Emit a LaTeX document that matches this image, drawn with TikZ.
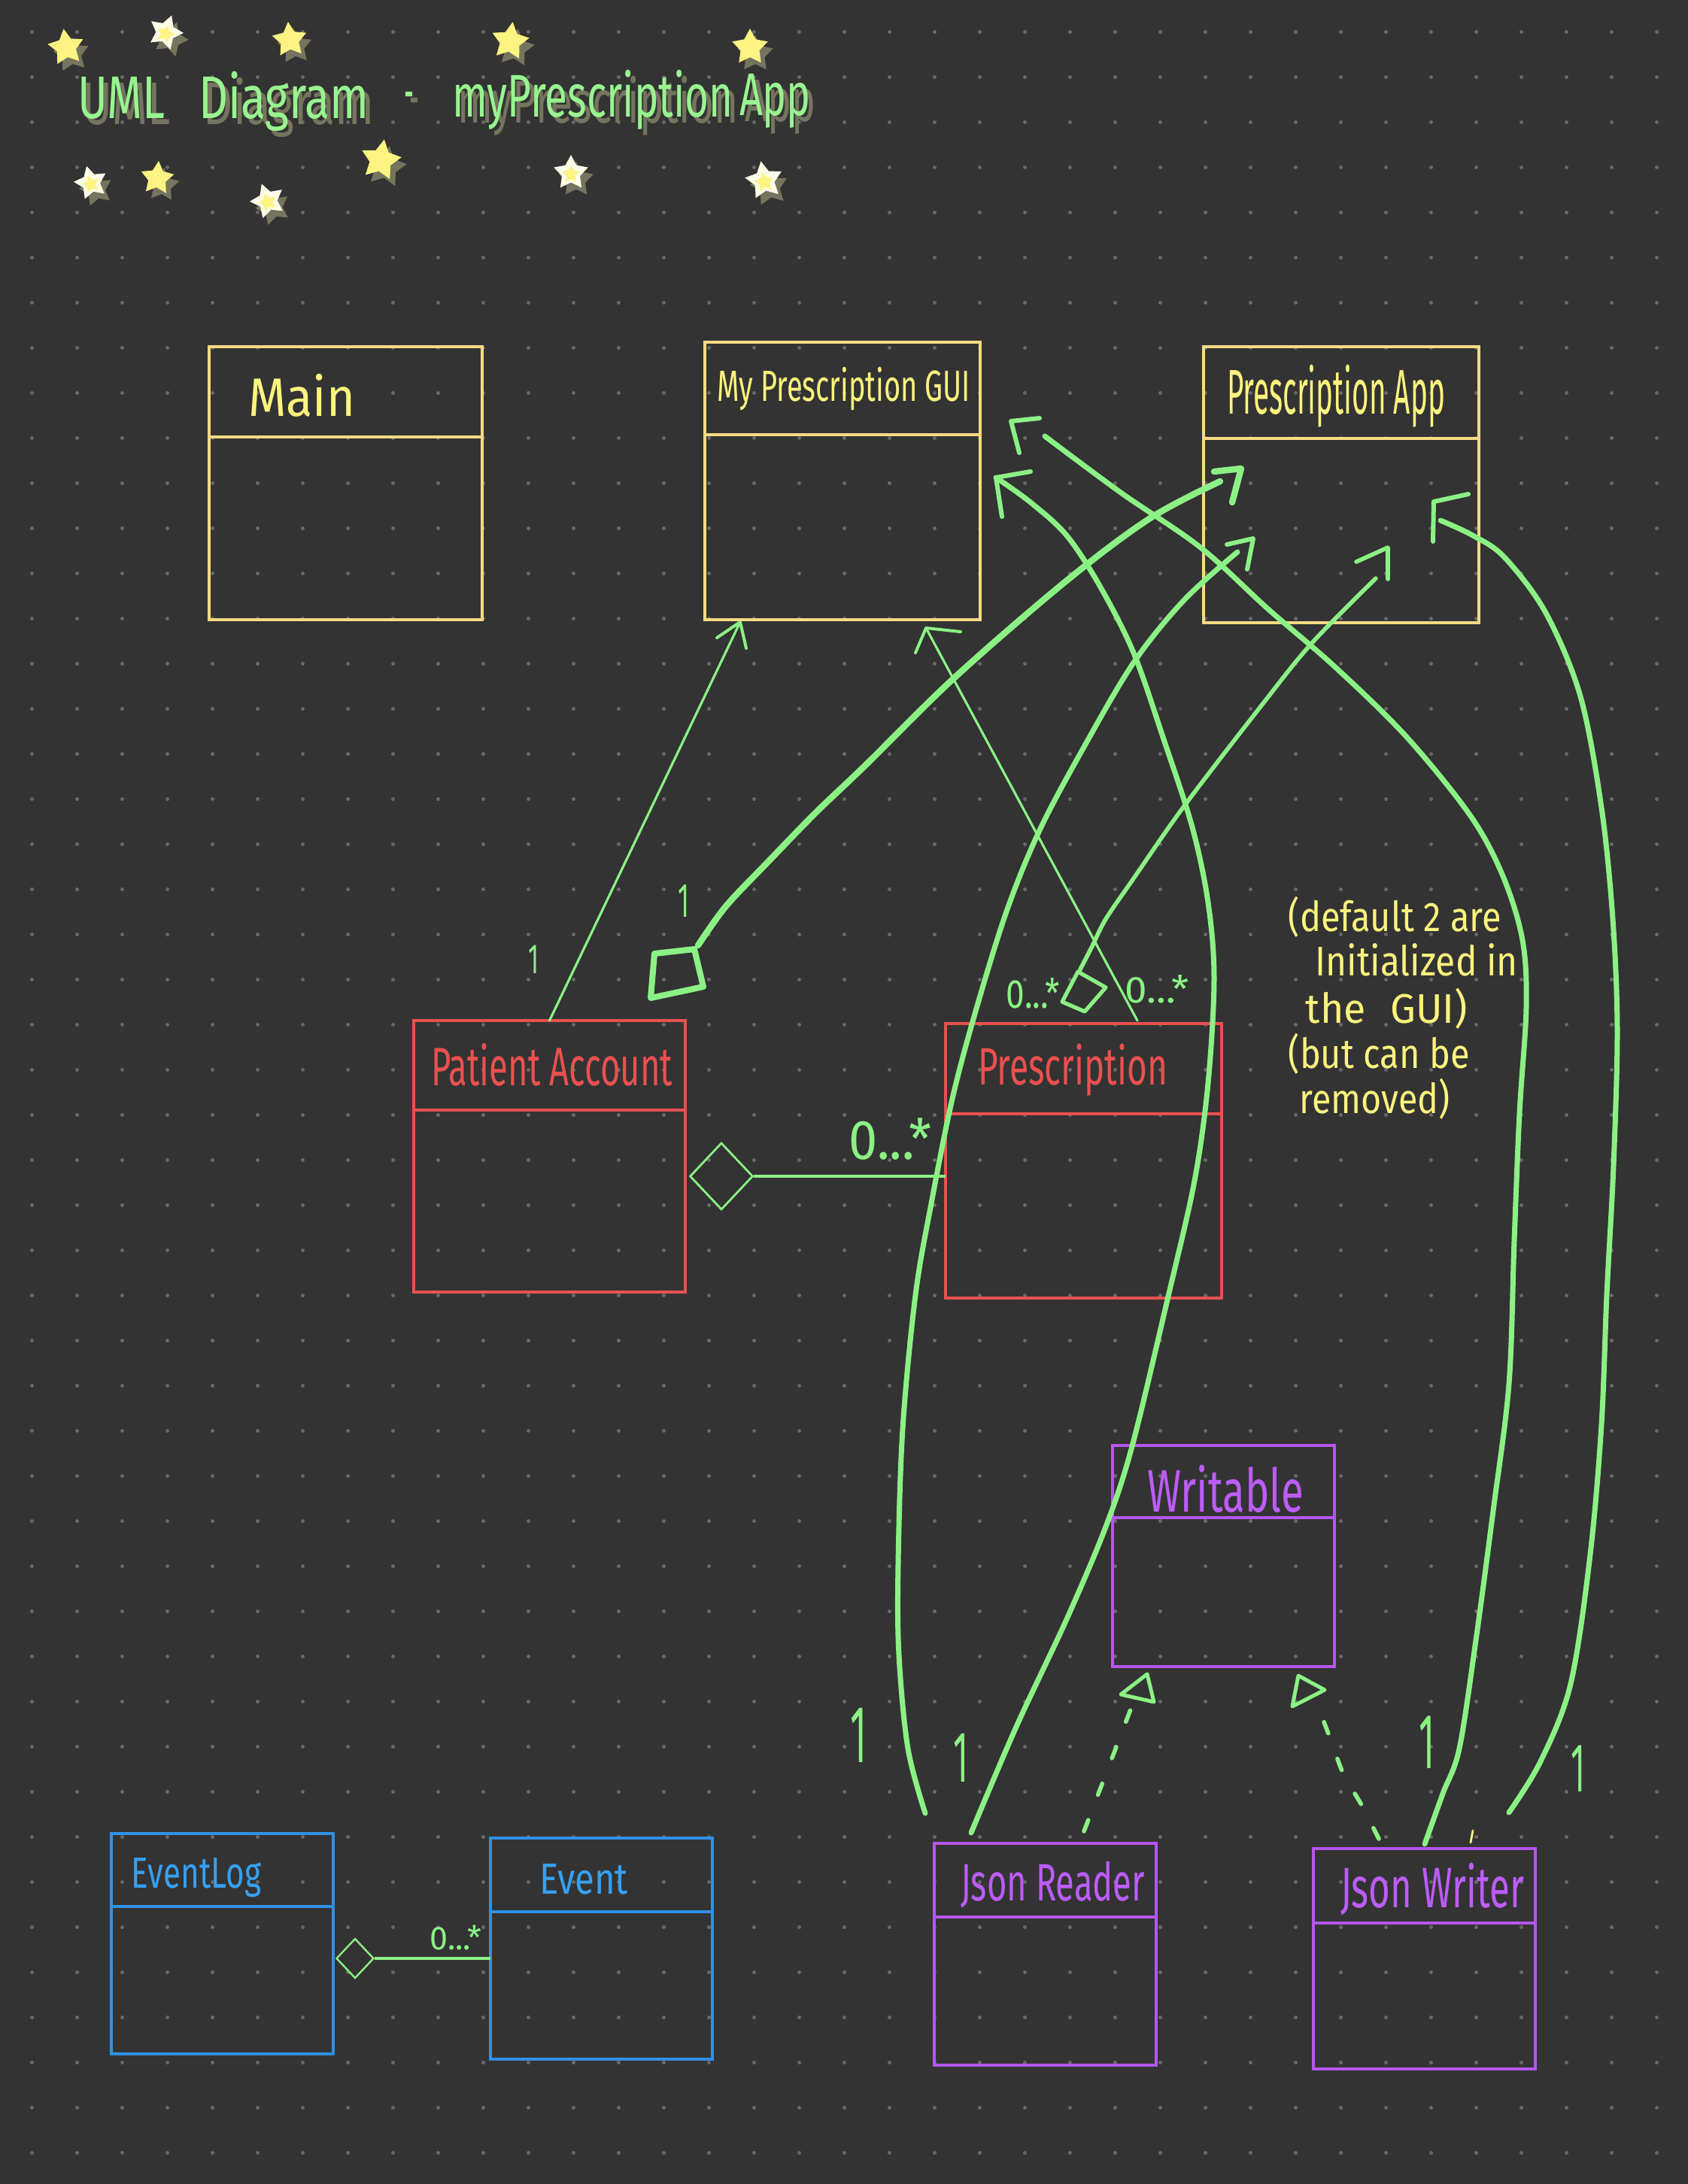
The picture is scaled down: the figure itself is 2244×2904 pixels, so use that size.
\documentclass[tikz,border=0pt]{standalone}
\usepackage{fontspec}
\setmainfont{Fira Sans}
\usetikzlibrary{shapes.geometric,fit}

\definecolor{bgc}{HTML}{333333}
\definecolor{dotc}{HTML}{686868}
\definecolor{grn}{HTML}{8CF185}
\definecolor{ttlgrn}{HTML}{98F48F}
\definecolor{shd}{HTML}{75745E}
\definecolor{ylwbox}{HTML}{F8DA84}
\definecolor{ylwtxt}{HTML}{FFF47E}
\definecolor{redc}{HTML}{E9514F}
\definecolor{purc}{HTML}{B456F0}
\definecolor{purtxt}{HTML}{BD5CFB}
\definecolor{bluc}{HTML}{2F91E6}
\definecolor{blutxt}{HTML}{37A0F2}
\definecolor{starw}{HTML}{FFFCE8}
\definecolor{stary}{HTML}{FFF382}

% one drawing unit = one pixel of the sheet
\newlength\pxu
\setlength\pxu{0.25pt}
% handwritten-looking label: width in px, font size in pt, text
\newcommand\hw[3]{\resizebox{#1\pxu}{\height}{\fontsize{#2pt}{#2pt}\selectfont #3}}
% title word with its soft shadow, set as one piece
\newcommand\shadowed[2]{%
  \makebox[0pt][l]{\hspace*{7\pxu}\raisebox{-8\pxu}{\color{shd}\hw{#1}{20}{#2}}}%
  \hw{#1}{20}{#2}}
\newcommand\titleword[5]{%
  \node[lbl, text=ttlgrn] (#1) at (#2,#3) {\shadowed{#4}{#5}};}

\begin{document}
\begin{tikzpicture}[x=0.25pt, y=-0.25pt,
  box/.style={draw, line width=1pt, inner sep=0pt, outer sep=0pt},
  lbl/.style={anchor=base west, inner sep=0pt, outer sep=0pt},
  wire/.style={draw=grn, line width=1.75pt, line cap=round, line join=round},
  thinwire/.style={draw=grn, line width=0.8pt, line cap=round, line join=round},
  headstroke/.style={draw=grn, line width=1.5pt, line cap=round, line join=round},
  thinhead/.style={draw=grn, line width=1pt, line cap=round, line join=round},
  realize/.style={draw=grn, line width=1.4pt, line cap=round, dash pattern=on 4pt off 9pt},
  mult/.style={text=grn, anchor=base west, inner sep=0pt},
  one/.style={text=grn, anchor=base, inner sep=0pt},
  starsh/.style={star, star points=5, star point ratio=1.9, inner sep=0pt},
  note/.style={text=ylwtxt, anchor=base west, inner sep=0pt}]

% sheet and dot grid
\fill[bgc] (0,0) rectangle (2244,2904);
\useasboundingbox (0,0) rectangle (2244,2904);
\foreach \i in {0,...,36}{\foreach \j in {0,...,48}{%
  \fill[dotc] ({42.5+60*\i},{42.5+60*\j}) circle[radius=2.5];}}

% stars around the title
\foreach \x/\y/\r/\s/\c [count=\n] in {88/63/8/12.5/stary, 220/43/-20/12/starw, 385/53/5/12/stary,
    678/55/-8/13/stary, 997/63/0/12.5/stary, 121/243/15/11.5/starw, 209/237/-5/11.5/stary,
    356/267/20/12/starw, 506/213/-10/14/stary, 759/230/0/12/starw, 1016/240/10/13/starw}{%
  \node[starsh, minimum size=\s pt, fill=shd, rotate=\r] (sh\n) at (\x+7,\y+9) {};
  \node[starsh, minimum size=\s pt, fill=\c, rotate=\r] (st\n) at (\x,\y) {};
  \node[starsh, minimum size=0.5*\s pt, fill=stary, rotate=\r] (sc\n) at (\x,\y+2) {};}

% title
\titleword{tw1}{103}{157}{117}{UML}
\titleword{tw2}{264}{157}{227}{Diagram}
\titleword{tw3}{537}{150}{13}{-}
\titleword{tw4}{601}{155}{374}{myPrescription}
\titleword{tw5}{983}{153}{95}{App}

% class boxes
\node[box, draw=ylwbox, fit={(278,461) (641,824)}] (main) {};
\draw[ylwbox, line width=1pt] (278,581) -- (641,581);
\node[box, draw=ylwbox, fit={(937,455) (1303,824)}] (gui) {};
\draw[ylwbox, line width=1pt] (937,578) -- (1303,578);
\node[box, draw=ylwbox, fit={(1600,461) (1966,828)}] (app) {};
\draw[ylwbox, line width=1pt] (1600,583) -- (1966,583);
\node[box, draw=redc, fit={(550,1357) (911,1718)}] (pa) {};
\draw[redc, line width=1pt] (550,1476) -- (911,1476);
\node[box, draw=redc, fit={(1257,1361) (1624,1726)}] (pr) {};
\draw[redc, line width=1pt] (1257,1481) -- (1624,1481);
\node[box, draw=purc, fit={(1479,1922) (1774,2216)}] (wr) {};
\draw[purc, line width=1pt] (1479,2018) -- (1774,2018);
\node[box, draw=purc, fit={(1242,2451) (1537,2746)}] (jr) {};
\draw[purc, line width=1pt] (1242,2549) -- (1537,2549);
\node[box, draw=purc, fit={(1746,2458) (2041,2751)}] (jw) {};
\draw[purc, line width=1pt] (1746,2557) -- (2041,2557);
\node[box, draw=bluc, fit={(148,2438) (443,2731)}] (el) {};
\draw[bluc, line width=1pt] (148,2535) -- (443,2535);
\node[box, draw=bluc, fit={(652,2444) (947,2738)}] (ev) {};
\draw[bluc, line width=1pt] (652,2542) -- (947,2542);

% class names
\node[lbl, text=ylwtxt] (tmain) at (330,553) {\hw{142}{18}{Main}};
\node[lbl, text=ylwtxt] (tgui) at (953,533) {\hw{337}{14.5}{My Prescription GUI}};
\node[lbl, text=ylwtxt] (tapp) at (1631,550) {\hw{290}{21}{Prescription App}};
\node[lbl, text=redc] (tpa) at (573,1443) {\hw{321}{18}{Patient Account}};
\node[lbl, text=redc] (tpr) at (1300,1442) {\hw{252}{17.5}{Prescription}};
\node[lbl, text=purtxt] (twr) at (1525,2010) {\hw{208}{20}{Writable}};
\node[lbl, text=purtxt] (tjr) at (1277,2527) {\hw{245}{17.5}{Json Reader}};
\node[lbl, text=purtxt] (tjw) at (1782,2536) {\hw{244}{19}{Json Writer}};
\node[lbl, text=blutxt] (tel) at (175,2510) {\hw{172}{14.5}{EventLog}};
\node[lbl, text=blutxt] (tev) at (717,2518) {\hw{118}{14.5}{Event}};

% note
\node[note] (n1) at (1712,1238) {\hw{283}{13.75}{(default 2 are}};
\node[note] (n2) at (1748,1297) {\hw{269}{13.75}{Initialized in}};
\node[note] (n3) at (1735,1360) {\hw{215}{13.75}{the\hspace{0.6em}GUI)}};
\node[note] (n4) at (1712,1420) {\hw{241}{13.75}{(but can be}};
\node[note] (n5) at (1727,1480) {\hw{200}{13.75}{removed)}};

% free ends and arrow tips
\coordinate (t1) at (984,827);
\coordinate (p2s) at (1512,1357);
\coordinate (t2) at (1231,835);
\coordinate (aS) at (1894,2452);  \coordinate (aE) at (1389,580);  \coordinate (tA) at (1344,560);
\coordinate (bS) at (1291,2437);  \coordinate (tB) at (1324,635);
\coordinate (fS) at (1230,2411);  \coordinate (fE) at (1645,734);  \coordinate (tF) at (1666,716);
\coordinate (cS) at (2006,2410);  \coordinate (cE) at (1915,692);  \coordinate (tC) at (1906,667);
\coordinate (dS) at (928,1257);   \coordinate (dE) at (1622,640);  \coordinate (tD) at (1650,623);
\coordinate (eS) at (1436,1289);  \coordinate (eE) at (1829,769);  \coordinate (tE) at (1845,728);
\coordinate (rS) at (1441,2435);  \coordinate (rE) at (1503,2273);
\coordinate (wS) at (1833,2445);  \coordinate (wE) at (1756,2279);

% PatientAccount -> GUI, Prescription -> GUI
\draw[thinwire] (pa.north) -- (t1);
\draw[thinhead] (953,848) -- (t1) -- (992,862);
\draw[thinwire] (p2s) -- (t2);
\draw[thinhead] (1277,840) -- (t2) -- (1217,868);

% aggregation PatientAccount <>-- Prescription
\node[diamond, draw=grn, line width=0.7pt, minimum width=21pt, minimum height=22.25pt, inner sep=0pt] (dg1) at (959,1564) {};
\draw[grn, line width=1pt] (dg1.east) -- (dg1.east -| pr.west);

% aggregation EventLog <>-- Event
\node[diamond, draw=grn, line width=0.6pt, minimum width=12.5pt, minimum height=13.25pt, inner sep=0pt] (dg2) at (472,2604) {};
\draw[grn, line width=1pt] (dg2.east) -- (dg2.east -| ev.west);

% hand-drawn diamonds at PatientAccount and Prescription
\draw[grn, line width=2pt, line cap=round, line join=round] (870,1268) -- (923,1262) -- (935,1312) -- (865,1327) -- cycle;
\draw[grn, line width=1.3pt, line cap=round, line join=round] (1433,1292) -- (1470,1313) -- (1442,1345) -- (1412,1332) -- cycle;

% PatientAccount -> PrescriptionApp
\draw[wire, line width=2.1pt] plot[smooth, tension=0.55] coordinates {(dS) (965,1205) (1020,1147) (1085,1080) (1150,1018) (1270,900) (1418,772) (1529,689) (dE)};
\draw[headstroke, line width=2.1pt] (1614,627) -- (tD) -- (1638,668);

% Prescription -> PrescriptionApp
\draw[wire, line width=1.4pt] plot[smooth, tension=0.55] coordinates {(eS) (1452,1258) (1470,1222) (1507,1168) (1574,1072) (1677,938) (1744,855) (eE)};
\draw[headstroke, line width=1.4pt] (1803,747) -- (tE) -- (1845,770);

% JsonWriter -> GUI
\draw[wire] plot[smooth, tension=0.55] coordinates {(aS) (1918,2385) (1940,2325) (1962,2181) (1985,2009) (2006,1840) (2013,1650) (2020,1480) (2029,1340) (2024,1250) (1998,1165) (1955,1085) (1870,980) (1775,887) (1686,810) (1596,728) (1490,655) (aE)};
\draw[headstroke] (1382,556) -- (tA) -- (1355,602);

% JsonReader -> GUI
\draw[wire] plot[smooth, tension=0.55] coordinates {(bS) (1351,2296) (1418,2153) (1470,2030) (1505,1923) (1552,1728) (1588,1570) (1606,1440) (1614,1301) (1606,1200) (1585,1100) (1547,983) (1507,868) (1462,779) (1418,712) (1370,668) (tB)};
\draw[headstroke] (1370,627) -- (tB) -- (1332,687);

% JsonReader -> PrescriptionApp
\draw[wire] plot[smooth, tension=0.55] coordinates {(fS) (1207,2325) (1195,2200) (1194,2080) (1200,1900) (1217,1722) (1239,1595) (1266,1461) (1296,1348) (1338,1212) (1382,1104) (1440,995) (1507,881) (1574,798) (fE)};
\draw[headstroke] (1631,724) -- (tF) -- (1658,757);

% JsonWriter -> PrescriptionApp
\draw[wire] plot[smooth, tension=0.55] coordinates {(cS) (2048,2342) (2088,2239) (2114,2067) (2129,1894) (2136,1722) (2145,1550) (2150,1370) (2144,1222) (2129,1074) (2101,926) (2055,815) (2000,741) (1958,712) (cE)};
\draw[headstroke] (1952,657) -- (tC) -- (1905,720);

% realizations of Writable
\draw[realize] (rS) -- (rE);
\draw[grn, line width=1.25pt, line join=round] (1525,2226) -- (1490,2253) -- (1534,2263) -- cycle;
\draw[realize] plot[smooth] coordinates {(wS) (1810,2400) (1786,2359) (1770,2316) (wE)};
\draw[grn, line width=1.25pt, line join=round] (1726,2228) -- (1761,2247) -- (1718,2269) -- cycle;

% small yellow tick above JsonWriter
\draw[ylwtxt, line width=0.7pt, line cap=round] (1958,2434) -- (1955,2450);

% multiplicities
\node[mult] (m1) at (1128,1541) {\hw{110}{18.5}{0...*}};
\node[mult] (m2) at (1337,1340) {\hw{71}{13.5}{0...*}};
\node[mult] (m3) at (1495,1333) {\hw{85}{12.5}{0...*}};
\node[mult] (m4) at (571,2592) {\hw{69}{11}{0...*}};
\node[one] (o1) at (709,1294) {\hw{14}{14}{1}};
\node[one] (o2) at (909,1219) {\hw{15}{16}{1}};
\node[one] (o3) at (1141,2343) {\hw{22}{27}{1}};
\node[one] (o4) at (1277,2369) {\hw{20}{24}{1}};
\node[one] (o5) at (1897,2351) {\hw{21}{26}{1}};
\node[one] (o6) at (2098,2382) {\hw{19}{23}{1}};
\end{tikzpicture}
\end{document}
